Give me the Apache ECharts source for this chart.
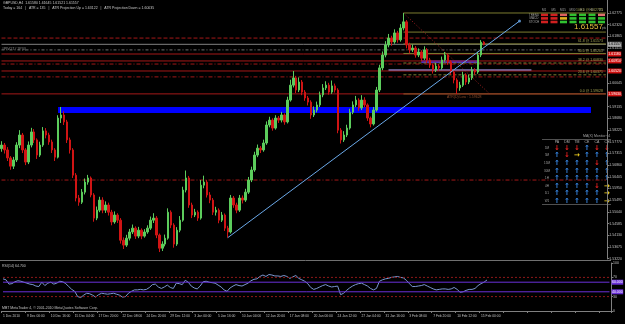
<!DOCTYPE html>
<html>
<head>
<meta charset="utf-8">
<script src="https://cdn.jsdelivr.net/npm/echarts@6/dist/echarts.min.js"></script>
<style>
  html, body { margin: 0; background: #000; }
  #chart { width: 625px; height: 324px; }
</style>
</head>
<body>
<div id="chart"></div>
<script>
// GBPUSD H4, one candle per slot: [open, close, low, high]
const candles = [
  [1.5750,1.5764,1.5738,1.5779],[1.5764,1.5745,1.5731,1.5772],[1.5745,1.5714,1.5702,1.5756],[1.5714,1.5682,1.5668,1.5721],
  [1.5682,1.5706,1.5671,1.5718],[1.5706,1.5764,1.5698,1.5775],[1.5764,1.5803,1.5752,1.5822],[1.5803,1.5745,1.5733,1.5811],
  [1.5745,1.5698,1.5686,1.5752],[1.5698,1.5764,1.5690,1.5778],[1.5764,1.5815,1.5755,1.5831],[1.5815,1.5784,1.5772,1.5826],
  [1.5784,1.5725,1.5710,1.5790],[1.5725,1.5764,1.5718,1.5777],[1.5764,1.5819,1.5757,1.5834],[1.5819,1.5803,1.5790,1.5830],
  [1.5803,1.5776,1.5765,1.5812],[1.5776,1.5745,1.5733,1.5785],[1.5745,1.5717,1.5702,1.5752],[1.5717,1.5869,1.5712,1.5880],
  [1.5869,1.5881,1.5850,1.5912],[1.5881,1.5854,1.5842,1.5895],[1.5854,1.5784,1.5772,1.5862],[1.5784,1.5745,1.5731,1.5793],
  [1.5745,1.5647,1.5636,1.5752],[1.5647,1.5558,1.5545,1.5655],[1.5558,1.5542,1.5528,1.5570],[1.5542,1.5581,1.5535,1.5593],
  [1.5581,1.5620,1.5572,1.5634],[1.5620,1.5636,1.5610,1.5648],[1.5636,1.5570,1.5561,1.5642],[1.5570,1.5480,1.5466,1.5577],
  [1.5480,1.5511,1.5472,1.5525],[1.5511,1.5550,1.5503,1.5563],[1.5550,1.5511,1.5499,1.5561],[1.5511,1.5531,1.5500,1.5545],
  [1.5531,1.5503,1.5490,1.5540],[1.5503,1.5465,1.5452,1.5512],[1.5465,1.5492,1.5458,1.5506],[1.5492,1.5472,1.5461,1.5499],
  [1.5472,1.5394,1.5381,1.5480],[1.5394,1.5375,1.5360,1.5405],[1.5375,1.5402,1.5368,1.5415],[1.5402,1.5426,1.5393,1.5438],
  [1.5426,1.5441,1.5418,1.5455],[1.5441,1.5410,1.5399,1.5448],[1.5410,1.5433,1.5402,1.5446],[1.5433,1.5410,1.5398,1.5440],
  [1.5410,1.5426,1.5404,1.5437],[1.5426,1.5441,1.5419,1.5452],[1.5441,1.5472,1.5434,1.5486],[1.5472,1.5480,1.5461,1.5499],
  [1.5480,1.5414,1.5402,1.5488],[1.5414,1.5363,1.5348,1.5420],[1.5363,1.5379,1.5352,1.5390],[1.5379,1.5402,1.5370,1.5416],
  [1.5402,1.5503,1.5396,1.5518],[1.5503,1.5453,1.5441,1.5510],[1.5453,1.5379,1.5365,1.5460],[1.5379,1.5433,1.5372,1.5445],
  [1.5433,1.5472,1.5425,1.5488],[1.5472,1.5589,1.5466,1.5602],[1.5589,1.5636,1.5580,1.5665],[1.5636,1.5531,1.5520,1.5644],
  [1.5531,1.5492,1.5480,1.5540],[1.5492,1.5503,1.5484,1.5516],[1.5503,1.5480,1.5469,1.5510],[1.5480,1.5608,1.5474,1.5628],
  [1.5608,1.5620,1.5596,1.5645],[1.5620,1.5570,1.5560,1.5628],[1.5570,1.5550,1.5538,1.5581],[1.5550,1.5503,1.5492,1.5558],
  [1.5503,1.5511,1.5490,1.5524],[1.5511,1.5472,1.5460,1.5518],[1.5472,1.5492,1.5465,1.5504],[1.5492,1.5441,1.5430,1.5498],
  [1.5441,1.5426,1.5404,1.5450],[1.5426,1.5558,1.5420,1.5570],[1.5558,1.5531,1.5520,1.5566],[1.5531,1.5511,1.5499,1.5540],
  [1.5511,1.5558,1.5504,1.5570],[1.5558,1.5550,1.5537,1.5568],[1.5550,1.5581,1.5543,1.5594],[1.5581,1.5628,1.5574,1.5640],
  [1.5628,1.5667,1.5620,1.5680],[1.5667,1.5725,1.5660,1.5738],[1.5725,1.5752,1.5717,1.5766],[1.5752,1.5745,1.5733,1.5760],
  [1.5745,1.5772,1.5738,1.5785],[1.5772,1.5842,1.5765,1.5856],[1.5842,1.5861,1.5833,1.5874],[1.5861,1.5830,1.5820,1.5868],
  [1.5830,1.5869,1.5824,1.5880],[1.5869,1.5861,1.5850,1.5877],[1.5861,1.5881,1.5852,1.5893],[1.5881,1.5854,1.5843,1.5887],
  [1.5854,1.5939,1.5848,1.5952],[1.5939,1.5997,1.5933,1.6018],[1.5997,1.6025,1.5988,1.6052],[1.6025,1.5978,1.5966,1.6033],
  [1.5978,1.6009,1.5970,1.6027],[1.6009,1.5970,1.5958,1.6017],[1.5970,1.5947,1.5936,1.5978],[1.5947,1.5931,1.5918,1.5955],
  [1.5931,1.5881,1.5866,1.5938],[1.5881,1.5900,1.5873,1.5914],[1.5900,1.5920,1.5891,1.5933],[1.5920,1.5959,1.5912,1.5972],
  [1.5959,1.5986,1.5950,1.6001],[1.5986,1.5997,1.5978,1.6012],[1.5997,1.5970,1.5960,1.6006],[1.5970,1.5994,1.5963,1.6015],
  [1.5994,1.5978,1.5968,1.6003],[1.5978,1.5822,1.5810,1.5985],[1.5822,1.5784,1.5770,1.5830],[1.5784,1.5803,1.5776,1.5818],
  [1.5803,1.5830,1.5795,1.5843],[1.5830,1.5892,1.5824,1.5905],[1.5892,1.5920,1.5884,1.5934],[1.5920,1.5939,1.5911,1.5955],
  [1.5939,1.5908,1.5897,1.5946],[1.5908,1.5939,1.5900,1.5958],[1.5939,1.5920,1.5910,1.5950],[1.5920,1.5869,1.5858,1.5926],
  [1.5869,1.5846,1.5833,1.5875],[1.5846,1.5900,1.5840,1.5912],[1.5900,1.5978,1.5894,1.5990],[1.5978,1.6064,1.5970,1.6076],
  [1.6064,1.6114,1.6055,1.6128],[1.6114,1.6153,1.6105,1.6168],[1.6153,1.6180,1.6144,1.6196],[1.6180,1.6165,1.6150,1.6189],
  [1.6165,1.6200,1.6158,1.6214],[1.6200,1.6173,1.6162,1.6208],[1.6173,1.6219,1.6166,1.6234],[1.6219,1.6243,1.6210,1.62775],
  [1.6243,1.6153,1.6140,1.6250],[1.6153,1.6134,1.6121,1.6162],[1.6134,1.6141,1.6126,1.6155],[1.6141,1.6114,1.6104,1.6149],
  [1.6114,1.6126,1.6106,1.6140],[1.6126,1.6102,1.6091,1.6133],[1.6102,1.6134,1.6095,1.6148],[1.6134,1.6095,1.6083,1.6141],
  [1.6095,1.6075,1.6064,1.6103],[1.6075,1.6056,1.6042,1.6082],[1.6056,1.6071,1.6048,1.6083],[1.6071,1.6064,1.6053,1.6079],
  [1.6064,1.6095,1.6057,1.6108],[1.6095,1.6114,1.6088,1.6126],[1.6114,1.6087,1.6076,1.6120],[1.6087,1.6048,1.6037,1.6094],
  [1.6048,1.6017,1.6004,1.6055],[1.6017,1.5986,1.5963,1.6024],[1.5986,1.5997,1.5975,1.6010],[1.5997,1.6036,1.5990,1.6049],
  [1.6036,1.6009,1.5998,1.6043],[1.6009,1.6025,1.6001,1.6038],[1.6025,1.6056,1.6017,1.6068],[1.6056,1.6048,1.6038,1.6063],
  [1.6048,1.6114,1.6041,1.6127],[1.6114,1.6164,1.6106,1.6172],[1.6164,1.61557,1.61521,1.61680]
];

// RSI(14), one value per candle
const rsi = [
  67,65,56,57,61,63,62,60,58,56,55,52,51,60,53,58,60,56,58,62,
  61,57,51,45,41,30,28,33,37,36,33,29,34,37,36,35,36,37,35,33,
  29,30,37,41,44,44,45,44,45,49,55,56,50,47,50,54,49,47,58,57,
  55,64,60,52,48,46,52,61,62,60,59,58,54,50,44,41,48,52,55,53,
  52,55,58,63,66,67,72,75,72,76,75,73,73,72,74,72,68,71,74,68,
  65,62,57,49,45,47,50,53,55,52,50,51,52,34,37,43,48,52,55,57,
  58,55,52,47,44,47,62,65,67,68,70,71,72,70,69,64,57,51,51,52,
  53,55,52,49,46,44,45,46,46,45,46,49,45,39,40,43,45,45,47,53,
  57,60,64.7
];

const priceTicks = [1.53220,1.53675,1.54130,1.54585,1.55040,1.55495,1.55950,1.56405,1.56860,1.57315,1.57770,
  1.58225,1.58680,1.59135,1.59590,1.60045,1.60500,1.60955,1.61410,1.61865,1.62320,1.62775];

const timeLabels = ['1 Dec 2010','9 Dec 00:00','10 Dec 16:00','15 Dec 04:00','17 Dec 20:00','22 Dec 08:00','24 Dec 20:00',
  '29 Dec 12:00','3 Jan 00:00','5 Jan 16:00','10 Jan 04:00','12 Jan 20:00','17 Jan 08:00','20 Jan 00:00','24 Jan 12:00',
  '27 Jan 04:00','31 Jan 16:00','3 Feb 08:00','7 Feb 20:00','10 Feb 12:00','15 Feb 00:00'];

// pivot levels: price, dash, boxed label on the price scale
const pivotLevels = [
  [1.6180, [4, 2], false],
  [1.6118, 'solid', true],
  [1.6091, 'solid', true],
  [1.6079, [4, 2, 1, 2], false],
  [1.6052, 'solid', true],
  [1.6029, [4, 2, 1, 2], false],
  [1.5963, 'solid', true],
  [1.5628, [4, 2, 1, 2], false]
];
const pivotLine = 1.6134;
const bidPrice = 1.61557;

// fibonacci retracement
const fibHigh = 1.62775, fibLow = 1.59628;
const fibLevels = [100, 76.4, 61.8, 50, 38.2, 23.6, 0];
const fibStart = 135, fibEnd = 164;

// trendline and zones (bar index, price)
const trendLine = [[76, 1.5404], [174, 1.6246]];
const blueZone = [19, 198, 1.5912, 1.5889];
const purpleZone = [141, 160, 1.6094, 1.6083];
const lavenderLine = [130, 178, 1.6056];

// MA monitor arrows: 1 up, -1 down, 0 flat
const monitorCols = ['PA', 'DM', 'TM', 'CE', 'CA', 'CC'];
const monitorRows = ['1M', '5M', '15M', '30M', '1H', '4H', 'D1', 'W1'];
const monitorState = [
  [-1,-1,-1, 1,-1,-1],
  [ 1,-1, 0, 1, 1, 1],
  [ 1, 1, 1, 1,-1, 1],
  [ 1, 1, 1, 1, 1, 1],
  [ 1, 1, 1, 1, 1, 1],
  [ 1, 1, 1, 1,-1, 0],
  [ 1, 1, 1, 1, 1, 0],
  [ 1, 1, 1, 1, 1, 0]
];

const totalBars = 204;
const lastBar = totalBars - 1;
const cats = Array.from({ length: totalBars }, (_, i) => String(i));
const FONT = 'Liberation Sans';
const PIVOT_RED = '#a41818';

const boxLabel = (text, bg, fg) => ({
  show: true, formatter: text, backgroundColor: bg, color: fg, distance: 2,
  fontSize: 3.5, fontFamily: FONT, padding: [0.5, 0.5], lineHeight: 4
});

// horizontal / sloped segment drawn as a plain two-point line series
function seg(p0, p1, color, type, extra) {
  return Object.assign({
    type: 'line', xAxisIndex: 0, yAxisIndex: 0, data: [p0, p1], showSymbol: false, silent: true,
    lineStyle: { color: color, type: type, width: 1 }, z: 1
  }, extra || {});
}

const levelSeries = [];
pivotLevels.forEach(([p, t, boxed]) => {
  levelSeries.push(seg([0, p], [lastBar, p], PIVOT_RED, t,
    boxed ? { endLabel: boxLabel(p.toFixed(5), '#d01010', '#fff') } : {}));
});
levelSeries.push(seg([0, bidPrice], [lastBar, bidPrice], '#808080', 'solid',
  { endLabel: boxLabel(bidPrice.toFixed(5), '#a8a8a8', '#000') }));
levelSeries.push(seg([0, pivotLine], [lastBar, pivotLine], '#707070', [3, 2, 1, 2]));

fibLevels.forEach((lv) => {
  const price = fibLow + (fibHigh - fibLow) * lv / 100;
  const color = lv === 0 ? '#8a5a2a' : '#7c7c30';
  const type = (lv === 38.2 || lv === 23.6) ? [3, 2] : 'solid';
  levelSeries.push({
    type: 'line', xAxisIndex: 0, yAxisIndex: 0, silent: true, z: 1,
    showSymbol: true, symbol: 'circle', symbolSize: 0,
    lineStyle: { color: color, type: type, width: 1 },
    data: [
      [fibStart, price],
      { value: [lastBar - 1, price],
        label: { show: lv !== 76.4, position: 'left', distance: 0, offset: [0, -2.5], formatter: lv.toFixed(1) + ' @ ' + price.toFixed(5),
          color: '#a0a050', fontSize: 3.5, fontFamily: FONT } },
      [lastBar, price]
    ]
  });
});
levelSeries.push(seg([fibStart, fibHigh], [fibEnd, fibLow], '#a02020', [1, 2]));
levelSeries.push(seg([lavenderLine[0], lavenderLine[2]], [lavenderLine[1], lavenderLine[2]], '#b8a8ff', 'solid'));

const arrowGlyph = { 1: '\u2191', '-1': '\u2193', 0: '\u2192' };
const arrowColor = { 1: '#3a8ef0', '-1': '#e02020', 0: '#f0d020' };
const monitorGraphics = [];
monitorGraphics.push({ type: 'text', left: 583, top: 134, style: { text: 'MA(X) Monitor v4', fill: '#a0a0a0', font: '3.5px ' + FONT } });
monitorGraphics.push({ type: 'line', shape: { x1: 542, y1: 139.5, x2: 611, y2: 139.5 }, style: { stroke: '#505050', lineWidth: 1 } });
monitorGraphics.push({ type: 'line', shape: { x1: 542, y1: 204.5, x2: 611, y2: 204.5 }, style: { stroke: '#505050', lineWidth: 1 } });
monitorCols.forEach((c, j) => {
  monitorGraphics.push({ type: 'text', x: 557 + j * 10, y: 142.5, style: { text: c, fill: '#b0b0b0', font: '3.5px ' + FONT, align: 'center', verticalAlign: 'middle' } });
});
monitorRows.forEach((r, i) => {
  const y = 148 + i * 7.6;
  monitorGraphics.push({ type: 'text', x: 547, y: y, style: { text: r, fill: '#a0a0a0', font: '3px ' + FONT, align: 'center', verticalAlign: 'middle' } });
  monitorState[i].forEach((s, j) => {
    monitorGraphics.push({ type: 'text', x: 557 + j * 10, y: y, style: { text: arrowGlyph[s], fill: arrowColor[s], font: 'bold 7px DejaVu Sans', align: 'center', verticalAlign: 'middle' } });
  });
});

// signal strength table (top right)
const signalCols = ['M1', 'M5', 'M15', 'M30', 'H1', 'H4', 'D1'];
const signalRows = ['TREND', 'MACD', 'STOCH'];
const signalState = [
  ['#d02020','#d02020','#e06060','#30c030','#30c030','#30c030','#e07070'],
  ['#d02020','#d02020','#e0b020','#30c030','#30c030','#30c030','#30c030'],
  ['#d02020','#d02020','#30c030','#30c030','#30c030','#30c030','#30c030']
];
const signalGraphics = [];
signalCols.forEach((c, j) => {
  signalGraphics.push({ type: 'text', x: 544 + j * 9.5, y: 10.5, style: { text: c, fill: '#a0a0a0', font: '3px ' + FONT, align: 'center', verticalAlign: 'middle' } });
});
signalRows.forEach((r, i) => {
  signalGraphics.push({ type: 'text', x: 534, y: 15 + i * 3.6, style: { text: r, fill: '#a0a0a0', font: '3px ' + FONT, align: 'center', verticalAlign: 'middle' } });
  signalState[i].forEach((col, j) => {
    signalGraphics.push({ type: 'rect', shape: { x: 541 + j * 9.5, y: 13.5 + i * 3.6, width: 7, height: 2.6 }, style: { fill: col } });
  });
});

const chart = echarts.init(document.getElementById('chart'));
chart.setOption({
  backgroundColor: '#000',
  animation: false,
  grid: [
    { left: 0, right: 14, top: 0, height: 259 },
    { left: 0, right: 14, top: 263, height: 48 }
  ],
  xAxis: [
    { type: 'category', gridIndex: 0, data: cats, boundaryGap: true,
      axisLine: { show: false }, axisTick: { show: false }, axisLabel: { show: false }, splitLine: { show: false } },
    { type: 'category', gridIndex: 1, data: cats, boundaryGap: true,
      axisLine: { show: true, lineStyle: { color: '#808080' } },
      axisTick: { show: true, interval: 7, length: 2, lineStyle: { color: '#808080' } },
      axisLabel: { interval: 7, align: 'left', margin: 4, color: '#c0c0c0', fontSize: 3.3, fontFamily: FONT,
        formatter: (v, idx) => timeLabels[idx / 8] || '' },
      splitLine: { show: false } }
  ],
  yAxis: [
    { type: 'value', gridIndex: 0, position: 'right', min: 1.5321, max: 1.6328,
      axisLine: { show: true, lineStyle: { color: '#808080' } },
      axisTick: { show: true, length: 2, customValues: priceTicks, lineStyle: { color: '#808080' } },
      axisLabel: { customValues: priceTicks, margin: 2, color: '#c0c0c0', fontSize: 3.5, fontFamily: FONT,
        formatter: (v) => v.toFixed(5) },
      splitLine: { show: false } },
    { type: 'value', gridIndex: 1, position: 'right', min: 0, max: 100,
      axisLine: { show: true, lineStyle: { color: '#808080' } },
      axisTick: { show: true, length: 2, customValues: [0, 30, 70, 100], lineStyle: { color: '#808080' } },
      axisLabel: { customValues: [0, 30, 70, 100], margin: 2, color: '#c0c0c0', fontSize: 3.5, fontFamily: FONT },
      splitLine: { show: false } }
  ],
  series: [
    ...levelSeries,
    {
      type: 'candlestick', xAxisIndex: 0, yAxisIndex: 0, data: candles, barWidth: 2, z: 3,
      itemStyle: { color: '#5ccc5c', color0: '#d01414', borderColor: '#5ccc5c', borderColor0: '#d01414', borderWidth: 1 },
      markArea: {
        silent: true, z: 1,
        data: [
          [{ coord: [blueZone[0], blueZone[2]], itemStyle: { color: '#0000ff' } }, { coord: [blueZone[1], blueZone[3]] }],
          [{ coord: [purpleZone[0], purpleZone[2]], itemStyle: { color: '#3d2ad8' } }, { coord: [purpleZone[1], purpleZone[3]] }]
        ]
      }
    },
    seg(trendLine[0], trendLine[1], '#6aa8e8', 'solid', { z: 4 }),
    {
      type: 'scatter', xAxisIndex: 0, yAxisIndex: 0, data: [trendLine[1]], symbolSize: 3, silent: true, z: 4,
      itemStyle: { color: '#6aa8e8' }
    },
    {
      type: 'line', xAxisIndex: 1, yAxisIndex: 1, data: rsi, showSymbol: false, silent: true, z: 3,
      lineStyle: { color: '#7a96d0', width: 1 }
    },
    { type: 'line', xAxisIndex: 1, yAxisIndex: 1, data: [[0, 70], [lastBar, 70]], showSymbol: false, silent: true,
      lineStyle: { color: '#901818', type: [2, 2], width: 1 } },
    { type: 'line', xAxisIndex: 1, yAxisIndex: 1, data: [[0, 30], [lastBar, 30]], showSymbol: false, silent: true,
      lineStyle: { color: '#901818', type: [2, 2], width: 1 } },
    { type: 'line', xAxisIndex: 1, yAxisIndex: 1, data: [[0, 60], [lastBar, 60]], showSymbol: false, silent: true,
      lineStyle: { color: '#6a30d8', width: 1 }, endLabel: boxLabel('60.000', '#6a30d8', '#fff') },
    { type: 'line', xAxisIndex: 1, yAxisIndex: 1, data: [[0, 40], [lastBar, 40]], showSymbol: false, silent: true,
      lineStyle: { color: '#6a30d8', width: 1 }, endLabel: boxLabel('40.000', '#6a30d8', '#fff') }
  ],
  graphic: [
    { type: 'text', left: 3, top: 1, style: { text: 'GBPUSD,H4  1.61580 1.61645 1.61521 1.61557', fill: '#c8c8c8', font: '3.5px ' + FONT } },
    { type: 'text', left: 3, top: 6, style: { text: 'Today = 164   |   ATR = 135   |   ATR Projection Up = 1.63122   |   ATR Projection Down = 1.60035', fill: '#c8c8c8', font: '3.5px ' + FONT } },
    { type: 'text', left: 2, top: 47, style: { text: '#PIVOT# 1P(4)', fill: '#909090', font: '3.5px ' + FONT } },
    { type: 'text', left: 574, top: 23, style: { text: '1.61557', fill: '#e8c040', font: '8px ' + FONT } },
    { type: 'text', left: 602, top: 27, style: { text: 'pts', fill: '#a0a0a0', font: '3px ' + FONT } },
    { type: 'text', left: 447, top: 95, style: { text: 'ATR(D) Low : 1.59628', fill: '#8a4a2a', font: '3.5px ' + FONT } },
    { type: 'line', shape: { x1: 0, y1: 260.5, x2: 611, y2: 260.5 }, style: { stroke: '#707070', lineWidth: 1 } },
    { type: 'text', left: 2, top: 264, style: { text: 'RSI(14) 64.700', fill: '#c0c0c0', font: '3.5px ' + FONT } },
    { type: 'text', left: 2, top: 306, style: { text: 'MBT MetaTrader 4, \u00a9 2001-2010 MetaQuotes Software Corp.', fill: '#c0c0c0', font: '3.5px ' + FONT } },
    ...monitorGraphics,
    ...signalGraphics
  ]
});
</script>
</body>
</html>
